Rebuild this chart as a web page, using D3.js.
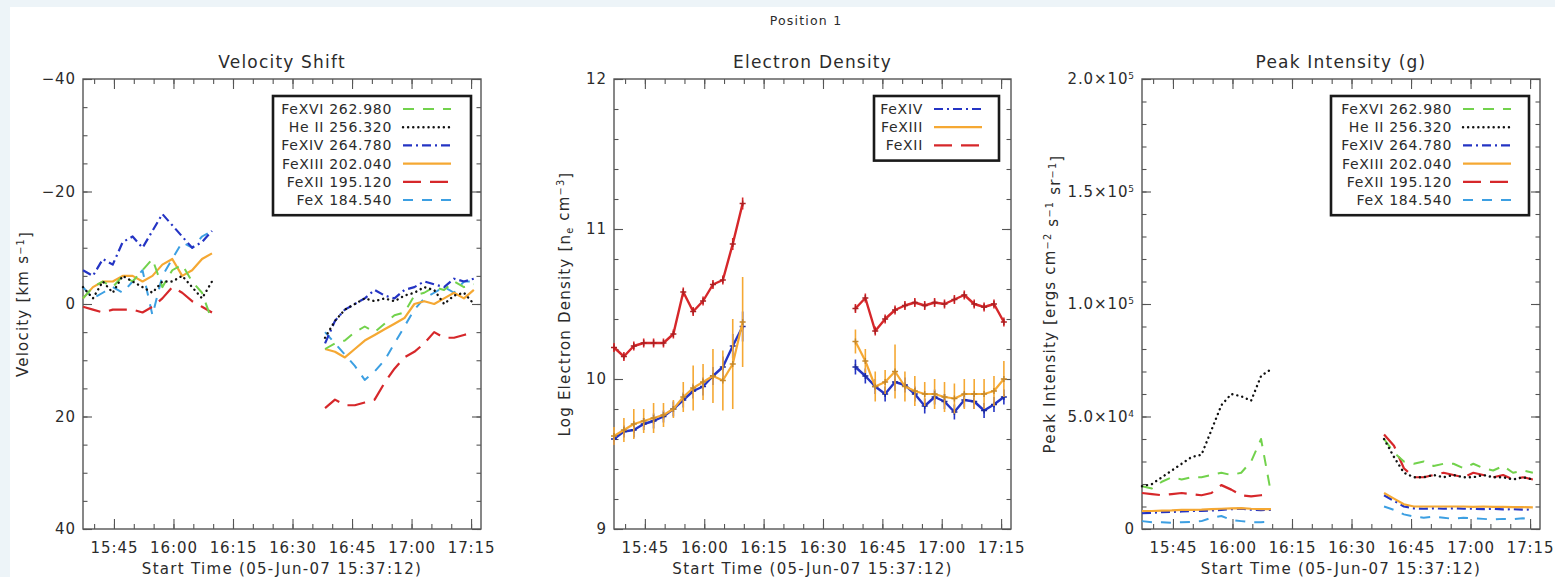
<!DOCTYPE html>
<html>
<head>
<meta charset="utf-8">
<script src="https://cdn.jsdelivr.net/npm/d3@7"></script>
<style>
body { margin: 0; background: #edf4f8; }
svg text { font-family: "DejaVu Sans", sans-serif; fill: #2b2b2b; }
</style>
</head>
<body>
<svg id="chart"></svg>
<script>
// ---- data ----
var startTimes = [
    "15:37:12", "15:39:42", "15:42:12", "15:44:42", "15:47:12", "15:49:42", "15:52:12",
    "15:54:42", "15:57:12", "15:59:42", "16:02:12", "16:04:42", "16:07:12", "16:09:42",
    "16:38:12", "16:40:42", "16:43:12", "16:45:42", "16:48:12", "16:50:42", "16:53:12", "16:55:42",
    "16:58:12", "17:00:42", "17:03:12", "17:05:42", "17:08:12", "17:10:42", "17:13:12", "17:15:42"
];
var axisStart = "15:37:12";
var axisEnd = "17:17:30";

var lineNames = ["FeXVI 262.980", "He II 256.320", "FeXIV 264.780", "FeXIII 202.040", "FeXII 195.120", "FeX 184.540"];
var densityNames = ["FeXIV", "FeXIII", "FeXII"];

// Velocity shift [km/s]
var velFeXVI = [-1, -3, -4, -3, -5, -4, -6, -8, -3, -6, -7, -4, -2, 3,
    8, 7, 6.5, 5, 4, 5, 3.5, 2, 1.5, -1.5, -2, -3, -2.5, -4, -3, -3.5];
var velHeII = [-3, -1, -4, -2, -5, -4, -3, -2, -4, -4, -5, -3, -1, -4,
    6, 3, 1, 0, -1, -0.5, -1, -0.5, -1.5, -2, -3, -2.5, 0, -1.5, -2, 0];
var velFeXIV = [-6, -5, -8, -7, -11, -12, -10, -13, -16, -14, -12, -10, -11, -13,
    7, 3, 1, 0, -1, -2.5, -1.5, -1, -2.5, -3, -4, -3.5, -3, -4.5, -4, -4.5];
var velFeXIII = [-1, -3, -4, -4, -5, -5, -4, -5, -7, -8, -5, -6, -8, -9,
    8, 8.5, 9.5, 8, 6.5, 5.5, 4.5, 3.5, 2.5, 0, -0.5, 0, -1, -2, -1, -2.5];
var velFeXII = [0.5, 1, 1.5, 1, 1, 1, 1.5, 0.5, -1, -3, -2, -0.5, 0.5, 1.5,
    18.5, 17, 18, 18, 17.5, 17, 14, 11.5, 9.5, 8.5, 7, 5, 6, 6, 5.5, 5];
var velFeX = [-3, -1, -2, -3, -2, -4, -6, 2, -5, -8, -11, -10, -12, -13,
    5, 7, 9, 11, 13.5, 12, 10, 7, 4, 1, -1, -2, -3, -2, -4, -4];

// Log electron density and its errors
var denFeXIV = [9.6, 9.65, 9.66, 9.7, 9.72, 9.75, 9.8, 9.86, 9.92, 9.95, 10.02, 10.08, 10.22, 10.35,
    10.08, 10.02, 9.95, 9.9, 9.98, 9.96, 9.9, 9.82, 9.88, 9.85, 9.78, 9.86, 9.85, 9.79, 9.83, 9.88];
var errFeXIV = [0.04, 0.04, 0.05, 0.04, 0.05, 0.04, 0.05, 0.05, 0.05, 0.06, 0.06, 0.07, 0.08, 0.1,
    0.05, 0.05, 0.05, 0.05, 0.06, 0.05, 0.05, 0.05, 0.05, 0.05, 0.05, 0.05, 0.05, 0.05, 0.05, 0.05];
var denFeXIII = [9.62, 9.66, 9.7, 9.72, 9.74, 9.76, 9.8, 9.88, 9.94, 9.98, 10.02, 9.99, 10.1, 10.38,
    10.25, 10.12, 9.95, 9.98, 10.05, 9.95, 9.92, 9.9, 9.9, 9.88, 9.87, 9.9, 9.9, 9.9, 9.92, 10.0];
var errFeXIII = [0.06, 0.08, 0.1, 0.08, 0.1, 0.08, 0.06, 0.1, 0.15, 0.12, 0.18, 0.2, 0.3, 0.3,
    0.08, 0.08, 0.1, 0.08, 0.18, 0.1, 0.1, 0.08, 0.1, 0.1, 0.1, 0.1, 0.1, 0.1, 0.1, 0.12];
var denFeXII = [10.21, 10.15, 10.22, 10.24, 10.24, 10.24, 10.3, 10.58, 10.45, 10.52, 10.63, 10.66, 10.9, 11.17,
    10.47, 10.54, 10.32, 10.4, 10.46, 10.49, 10.51, 10.49, 10.51, 10.5, 10.53, 10.56, 10.5, 10.48, 10.5, 10.38];
var errFeXII = [0.03, 0.03, 0.03, 0.03, 0.03, 0.03, 0.03, 0.03, 0.03, 0.03, 0.03, 0.03, 0.04, 0.04,
    0.03, 0.03, 0.03, 0.03, 0.03, 0.03, 0.03, 0.03, 0.03, 0.03, 0.03, 0.03, 0.03, 0.03, 0.03, 0.03];

// Peak intensity [ergs cm-2 s-1 sr-1]
var intFeXVI = [19000, 18000, 21000, 23000, 22000, 23000, 23000, 24000, 25000, 24000, 25000, 30000, 40000, 16000,
    40000, 34000, 30000, 29000, 30000, 28000, 29000, 29000, 27000, 29000, 27000, 26000, 28000, 25000, 26000, 25000];
var intHeII = [19000, 20000, 23000, 26000, 29000, 32000, 33000, 44000, 55000, 60000, 59000, 57000, 68000, 71000,
    40000, 32000, 25000, 23000, 23000, 24000, 23000, 24000, 23000, 23000, 24000, 23000, 23000, 22000, 23000, 22000];
var intFeXIV = [7000, 7200, 7500, 7600, 7800, 8000, 8000, 8200, 8500, 8800, 9000, 8600, 8400, 8500,
    15000, 12500, 10000, 9200, 9000, 9200, 9000, 9200, 9000, 9000, 8800, 9000, 8700, 8800, 8600, 8700];
var intFeXIII = [8000, 8000, 8200, 8300, 8500, 8500, 8600, 8800, 9000, 9200, 9300, 9000, 8800, 8800,
    16000, 13500, 11000, 10000, 10000, 10000, 10000, 10000, 10000, 9800, 10000, 9800, 9800, 9700, 9700, 9600];
var intFeXII = [16000, 15500, 15000, 15500, 16000, 15500, 15000, 16000, 19500, 17500, 15000, 14500, 15000, 15500,
    42000, 37000, 27000, 23000, 23000, 24000, 25000, 24000, 23000, 25000, 24000, 23000, 24000, 22000, 23000, 22000];
var intFeX = [3500, 3000, 3000, 2800, 3000, 3200, 3500, 5000, 5800, 4000, 3500, 3000, 3000, 3200,
    10000, 8500, 6500, 5500, 5000, 5500, 5000, 4500, 5000, 4800, 4500, 4200, 4500, 4400, 4800, 4200];

// ---- styles ----
var styleFeXVI = { color: "#72d24c", dash: "11,9", width: 2 };
var styleHeII = { color: "#111111", dash: "0.1,5", width: 2.4, cap: "round" };
var styleFeXIV = { color: "#2434c4", dash: "9,4,2,4", width: 2.2 };
var styleFeXIII = { color: "#f5a833", dash: null, width: 2.2 };
var styleFeXII = { color: "#d6272a", dash: "18,9", width: 2.2 };
var styleFeX = { color: "#3c9fe2", dash: "10,9", width: 2 };

var svgWidth = 1555;
var svgHeight = 577;
var plotTop = 79;
var plotBottom = 529;
var height = plotBottom - plotTop;

var svg = d3.select("#chart")
    .attr("width", svgWidth)
    .attr("height", svgHeight);

svg.append("rect")
    .attr("width", svgWidth).attr("height", svgHeight)
    .attr("fill", "#edf4f8");
svg.append("rect")
    .attr("x", 10).attr("y", 7)
    .attr("width", svgWidth - 10).attr("height", svgHeight - 7)
    .attr("fill", "#ffffff");

svg.append("text")
    .attr("x", 806).attr("y", 25)
    .attr("text-anchor", "middle")
    .attr("font-size", 12.5)
    .attr("letter-spacing", 1.2)
    .text("Position 1");

var parseTime = d3.timeParse("%H:%M:%S");
var times = startTimes.map(parseTime);
var tStart = parseTime(axisStart);
var tEnd = parseTime(axisEnd);

// split indexes into runs without big time gaps
function segments(values, errors) {
    var runs = [];
    var cur = [];
    values.forEach(function(v, i) {
        if (i > 0 && (times[i] - times[i - 1]) > 10 * 60000) {
            runs.push(cur);
            cur = [];
        }
        cur.push({ t: times[i], v: v, e: errors ? errors[i] : 0 });
    });
    runs.push(cur);
    return runs;
}

function sciLabel(sel, d) {
    if (d === 0) {
        sel.text("0");
        return;
    }
    var exp = Math.floor(Math.log10(d));
    var mant = d / Math.pow(10, exp);
    sel.text(null);
    sel.append("tspan").text(mant.toFixed(1) + "\u00d710");
    sel.append("tspan").attr("dy", "-0.55em").attr("font-size", "0.6em").text(exp);
}

function drawPanel(cfg) {
    var width = cfg.right - cfg.left;
    var g = svg.append("g").attr("transform", `translate(${cfg.left}, ${plotTop})`);

    var x = d3.scaleTime().domain([tStart, tEnd]).range([0, width]);
    var y = cfg.yScale;

    var xMajor = d3.timeMinute.every(15).range(tStart, tEnd);
    var xMinor = d3.timeMinute.every(5).range(tStart, tEnd);

    // bottom axis
    g.append("g")
        .attr("transform", `translate(0, ${height})`)
        .call(d3.axisBottom(x).tickValues(xMajor).tickSize(-10).tickPadding(13)
            .tickFormat(d3.timeFormat("%H:%M")));
    g.append("g")
        .attr("transform", `translate(0, ${height})`)
        .call(d3.axisBottom(x).tickValues(xMinor).tickSize(-5).tickFormat(""));
    g.append("g").call(d3.axisTop(x).tickValues(xMajor).tickSize(-10).tickFormat(""));
    g.append("g").call(d3.axisTop(x).tickValues(xMinor).tickSize(-5).tickFormat(""));

    // left / right axes
    var leftAxis = g.append("g")
        .call(d3.axisLeft(y).tickValues(cfg.yMajor).tickSize(-9).tickPadding(7).tickFormat(""));
    leftAxis.selectAll(".tick text").each(function(d) {
        cfg.yFormat(d3.select(this), d);
    });
    g.append("g").call(d3.axisLeft(y).tickValues(cfg.yMinor).tickSize(-4.5).tickFormat(""));
    g.append("g").attr("transform", `translate(${width}, 0)`)
        .call(d3.axisRight(y).tickValues(cfg.yMajor).tickSize(-9).tickFormat(""));
    g.append("g").attr("transform", `translate(${width}, 0)`)
        .call(d3.axisRight(y).tickValues(cfg.yMinor).tickSize(-4.5).tickFormat(""));

    g.selectAll(".domain").remove();
    g.selectAll(".tick line").attr("stroke", "#555").attr("stroke-width", 1.1);
    g.selectAll(".tick text")
        .attr("font-family", "DejaVu Sans, sans-serif")
        .attr("font-size", 15)
        .attr("letter-spacing", 0.9)
        .attr("fill", "#2b2b2b");

    g.append("rect")
        .attr("width", width).attr("height", height)
        .attr("fill", "none")
        .attr("stroke", "#555")
        .attr("stroke-width", 1.4);

    // titles
    g.append("text")
        .attr("x", width / 2).attr("y", -11)
        .attr("text-anchor", "middle")
        .attr("font-size", 17)
        .attr("letter-spacing", 1.2)
        .text(cfg.title);
    g.append("text")
        .attr("x", width / 2).attr("y", height + 45)
        .attr("text-anchor", "middle")
        .attr("font-size", 15)
        .attr("letter-spacing", 1.3)
        .text("Start Time (05-Jun-07 15:37:12)");

    var yTitle = g.append("text")
        .attr("transform", `translate(${cfg.yTitleX}, ${height / 2}) rotate(-90)`)
        .attr("text-anchor", "middle")
        .attr("dy", "0.35em")
        .attr("font-size", 15)
        .attr("letter-spacing", 1.2);
    cfg.yTitle.forEach(function(p, i) {
        var ts = yTitle.append("tspan").text(p[0]);
        if (i === 0) ts.attr("dy", "0.35em");
        if (p[1] === "sup") ts.attr("dy", "-0.45em").attr("font-size", "0.65em");
        if (p[1] === "sub") ts.attr("dy", "0.3em").attr("font-size", "0.65em");
        if (p[1] === "back") ts.attr("dy", "0.45em");
        if (p[1] === "up") ts.attr("dy", "-0.3em");
    });

    // lines
    var line = d3.line()
        .x(d => x(d.t))
        .y(d => y(d.v));

    cfg.series.forEach(function(s) {
        segments(s.values, s.errors).forEach(function(run) {
            g.append("path")
                .datum(run)
                .attr("d", line)
                .attr("fill", "none")
                .attr("stroke", s.style.color)
                .attr("stroke-width", s.style.width)
                .attr("stroke-dasharray", s.style.dash)
                .attr("stroke-linecap", s.style.cap || "butt")
                .attr("stroke-linejoin", "round");

            if (s.errors) {
                g.selectAll(null)
                    .data(run)
                    .enter()
                    .append("line")
                    .attr("x1", d => x(d.t)).attr("x2", d => x(d.t))
                    .attr("y1", d => y(d.v - d.e)).attr("y2", d => y(d.v + d.e))
                    .attr("stroke", s.style.color)
                    .attr("stroke-width", 1.6);
                // plus markers
                g.selectAll(null)
                    .data(run)
                    .enter()
                    .append("path")
                    .attr("d", d => `M${x(d.t) - 3},${y(d.v)}h6M${x(d.t)},${y(d.v) - 3}v6`)
                    .attr("stroke", d3.color(s.style.color).darker(0.6))
                    .attr("stroke-width", 1.4);
            }
        });
    });

    // legend
    var lg = cfg.legend;
    g.append("rect")
        .attr("x", lg.x).attr("y", 17)
        .attr("width", lg.w).attr("height", lg.items.length * 18.2 + 10)
        .attr("fill", "#fff")
        .attr("stroke", "#1a1a1a")
        .attr("stroke-width", 2.6);
    lg.items.forEach(function(it, i) {
        var yy = 30 + i * 18.2;
        g.append("text")
            .attr("x", lg.textRight).attr("y", yy)
            .attr("dy", "0.35em")
            .attr("text-anchor", "end")
            .attr("font-size", 14)
            .attr("letter-spacing", 0.7)
            .text(it.name);
        g.append("line")
            .attr("x1", lg.textRight + 11).attr("x2", lg.textRight + 59)
            .attr("y1", yy).attr("y2", yy)
            .attr("stroke", it.style.color)
            .attr("stroke-width", it.style.width)
            .attr("stroke-dasharray", it.style.dash)
            .attr("stroke-linecap", it.style.cap || "butt");
    });
}

var sixStyles = [styleFeXVI, styleHeII, styleFeXIV, styleFeXIII, styleFeXII, styleFeX];
var sixLegend = lineNames.map((n, i) => ({ name: n, style: sixStyles[i] }));

// Velocity Shift
drawPanel({
    left: 83, right: 481,
    title: "Velocity Shift",
    yScale: d3.scaleLinear().domain([-40, 40]).range([0, height]),
    yMajor: d3.range(-40, 41, 20),
    yMinor: d3.range(-40, 41, 5),
    yFormat: function(sel, d) { sel.text(d < 0 ? "\u2212" + Math.abs(d) : d); },
    yTitleX: -60,
    yTitle: [["Velocity [km s"], ["\u22121", "sup"], ["]", "back"]],
    series: [
        { values: velFeX, style: styleFeX },
        { values: velFeXII, style: styleFeXII },
        { values: velFeXIII, style: styleFeXIII },
        { values: velFeXVI, style: styleFeXVI },
        { values: velFeXIV, style: styleFeXIV },
        { values: velHeII, style: styleHeII }
    ],
    legend: { x: 190, w: 198, textRight: 309, items: sixLegend }
});

// Electron Density
drawPanel({
    left: 614, right: 1011,
    title: "Electron Density",
    yScale: d3.scaleLinear().domain([9, 12]).range([height, 0]),
    yMajor: [9, 10, 11, 12],
    yMinor: d3.range(9, 12.01, 0.2),
    yFormat: function(sel, d) { sel.text(d); },
    yTitleX: -49,
    yTitle: [["Log Electron Density [n"], ["e", "sub"], [" cm", "up"], ["\u22123", "sup"], ["]", "back"]],
    series: [
        { values: denFeXII, errors: errFeXII, style: { color: "#d6272a", dash: null, width: 2.4 } },
        { values: denFeXIV, errors: errFeXIV, style: { color: "#2434c4", dash: null, width: 2.4 } },
        { values: denFeXIII, errors: errFeXIII, style: { color: "#f5a833", dash: null, width: 2.2 } }
    ],
    legend: {
        x: 260, w: 125, textRight: 309,
        items: [
            { name: densityNames[0], style: styleFeXIV },
            { name: densityNames[1], style: styleFeXIII },
            { name: densityNames[2], style: styleFeXII }
        ]
    }
});

// Peak Intensity
drawPanel({
    left: 1142, right: 1540,
    title: "Peak Intensity (g)",
    yScale: d3.scaleLinear().domain([0, 200000]).range([height, 0]),
    yMajor: d3.range(0, 200001, 50000),
    yMinor: d3.range(0, 200001, 10000),
    yFormat: sciLabel,
    yTitleX: -92,
    yTitle: [["Peak Intensity [ergs cm"], ["\u22122", "sup"], [" s", "back"], ["\u22121", "sup"], [" sr", "back"], ["\u22121", "sup"], ["]", "back"]],
    series: [
        { values: intFeX, style: styleFeX },
        { values: intFeXIV, style: styleFeXIV },
        { values: intFeXIII, style: styleFeXIII },
        { values: intFeXII, style: styleFeXII },
        { values: intFeXVI, style: styleFeXVI },
        { values: intHeII, style: styleHeII }
    ],
    legend: { x: 189, w: 198, textRight: 310, items: sixLegend }
});
</script>
</body>
</html>
